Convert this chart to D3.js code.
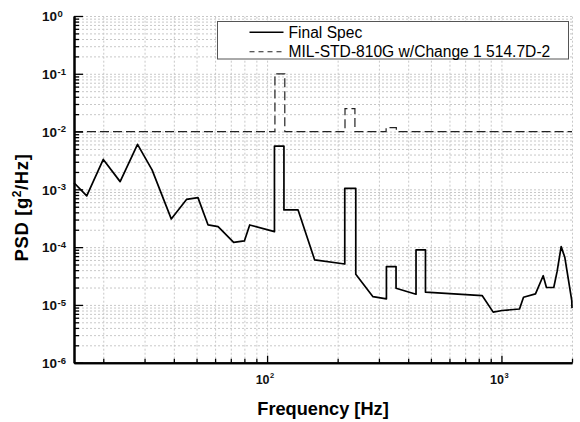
<!DOCTYPE html>
<html>
<head>
<meta charset="utf-8">
<title>PSD</title>
<script src="https://cdn.jsdelivr.net/npm/d3@7"></script>
<style>
  body { margin: 0; background: #fff; }
  svg { font-family: "Liberation Sans", Arial, sans-serif; }
  .grid line { stroke: #c8c8c8; stroke-width: 1; stroke-dasharray: 2,2; }
  .grid path { display: none; }
</style>
</head>
<body>
<svg id="chart" width="580" height="422"></svg>
<script>
// Final spec (solid)
var specFreq = [15, 17, 20, 23.6, 28, 32.3, 39, 45.3, 50.7, 56, 61.8, 72, 80, 84.3,
  107.5, 107.5, 118, 118, 135.6, 159.6, 214.5, 214.5, 239, 239, 283, 323, 323, 355, 355,
  432, 432, 474, 474, 827, 922, 1007, 1194, 1242, 1397, 1507, 1556, 1672, 1728, 1798, 1863, 1995, 2000];
var specPsd = [1.3e-3, 7.7e-4, 3.3e-3, 1.36e-3, 6.0e-3, 2.17e-3, 3.08e-4, 6.7e-4, 7.2e-4, 2.42e-4, 2.26e-4, 1.21e-4, 1.28e-4, 2.42e-4,
  1.85e-4, 5.6e-3, 5.6e-3, 4.4e-4, 4.4e-4, 6.0e-5, 5.1e-5, 1.04e-3, 1.04e-3, 3.4e-5, 1.39e-5, 1.27e-5, 4.6e-5, 4.6e-5, 1.94e-5,
  1.53e-5, 8.95e-5, 8.95e-5, 1.66e-5, 1.45e-5, 7.5e-6, 8.0e-6, 8.5e-6, 1.36e-5, 1.55e-5, 3.2e-5, 2.0e-5, 2.0e-5, 3.8e-5, 1.02e-4, 6.7e-5, 1.2e-5, 8.8e-6];

// MIL-STD-810G reference (dashed)
var refFreq = [15, 108, 108, 119, 119, 215, 215, 237, 237, 322, 322, 356, 356, 2000];
var refPsd = [0.01, 0.01, 0.1, 0.1, 0.01, 0.01, 0.025, 0.025, 0.01, 0.01, 0.0117, 0.0117, 0.01, 0.01];

var xMajor = [100, 1000];
var xMinor = [20, 30, 40, 50, 60, 70, 80, 90, 200, 300, 400, 500, 600, 700, 800, 900, 2000];
var yMajorExp = [0, -1, -2, -3, -4, -5, -6];
var legendNames = ["Final Spec", "MIL-STD-810G w/Change 1 514.7D-2"];

var pLeft = 74, pRight = 572, pTop = 16, pBottom = 362.7;

var svg = d3.select("#chart");

var x = d3.scaleLog().domain([15, 2000]).range([pLeft, pRight]);
var y = d3.scaleLog().domain([1e-6, 1]).range([pBottom, pTop]);

var yMajor = yMajorExp.map(function(e) { return Math.pow(10, e); });
var yMinor = [];
yMajorExp.slice(1).forEach(function(e) {
  for (var k = 2; k <= 9; k++) yMinor.push(k * Math.pow(10, e));
});

// grid
svg.append("g").attr("class", "grid")
  .attr("transform", "translate(0," + pBottom + ")")
  .call(d3.axisBottom(x).tickValues(xMinor.concat(xMajor)).tickSize(-(pBottom - pTop)).tickFormat(""));
svg.append("g").attr("class", "grid")
  .attr("transform", "translate(" + pLeft + ",0)")
  .call(d3.axisLeft(y).tickValues(yMinor.concat(yMajor)).tickSize(-(pRight - pLeft)).tickFormat(""));

// lines
var line = d3.line()
  .x(function(d) { return x(d[0]); })
  .y(function(d) { return y(d[1]); });

svg.append("path")
  .datum(refFreq.map(function(f, i) { return [f, refPsd[i]]; }))
  .attr("fill", "none")
  .attr("stroke", "#222")
  .attr("stroke-width", 1.2)
  .attr("stroke-dasharray", "9,4")
  .attr("d", line);

svg.append("path")
  .datum(specFreq.map(function(f, i) { return [f, specPsd[i]]; }))
  .attr("fill", "none")
  .attr("stroke", "#000")
  .attr("stroke-width", 1.7)
  .attr("stroke-linejoin", "round")
  .attr("d", line);

// axes
function styleAxis(g) {
  g.select(".domain").attr("stroke", "#000").attr("stroke-width", 2);
  g.selectAll(".tick line").attr("stroke", "#000").attr("stroke-width", 1.3);
}

svg.append("g")
  .attr("transform", "translate(0," + pBottom + ")")
  .call(d3.axisBottom(x).tickValues(xMinor).tickSizeInner(-4).tickSizeOuter(0).tickFormat(""))
  .call(styleAxis);
svg.append("g")
  .attr("transform", "translate(0," + pBottom + ")")
  .call(d3.axisBottom(x).tickValues(xMajor).tickSizeInner(-7).tickSizeOuter(0).tickFormat(""))
  .call(styleAxis);

svg.append("g")
  .attr("transform", "translate(" + pLeft + ",0)")
  .call(d3.axisLeft(y).tickValues(yMinor).tickSizeInner(-5).tickSizeOuter(0).tickFormat(""))
  .call(styleAxis);
svg.append("g")
  .attr("transform", "translate(" + pLeft + ",0)")
  .call(d3.axisLeft(y).tickValues(yMajor).tickSizeInner(-9).tickSizeOuter(0).tickFormat(""))
  .call(styleAxis);

// tick labels with superscripts
yMajorExp.forEach(function(e) {
  svg.append("text")
    .attr("x", 57).attr("y", y(Math.pow(10, e)) + 5.3)
    .attr("text-anchor", "end")
    .attr("font-weight", "bold").attr("font-size", 13.5).attr("fill", "#111")
    .text("10");
  svg.append("text")
    .attr("x", 57.5).attr("y", y(Math.pow(10, e)) + 0.8)
    .attr("font-weight", "bold").attr("font-size", 9.5).attr("fill", "#111")
    .text(e);
});

xMajor.forEach(function(v) {
  svg.append("text")
    .attr("x", x(v) + 2.5).attr("y", pBottom + 21.6)
    .attr("text-anchor", "end")
    .attr("font-weight", "bold").attr("font-size", 12.5).attr("fill", "#111")
    .text("10");
  svg.append("text")
    .attr("x", x(v) + 3).attr("y", pBottom + 15)
    .attr("font-weight", "bold").attr("font-size", 7.5).attr("fill", "#111")
    .text(Math.round(Math.log10(v)));
});

// axis titles
svg.append("text")
  .attr("x", (pLeft + pRight) / 2).attr("y", 415)
  .attr("text-anchor", "middle")
  .attr("font-weight", "bold").attr("font-size", 18.2)
  .text("Frequency [Hz]");

var yt = svg.append("text")
  .attr("transform", "translate(28,207.5) rotate(-90)")
  .attr("text-anchor", "middle")
  .attr("font-weight", "bold").attr("font-size", 18.5)
  .attr("letter-spacing", 0.6);
yt.append("tspan").text("PSD [g");
yt.append("tspan").attr("dy", -7.5).attr("font-size", 12).text("2");
yt.append("tspan").attr("dy", 7.5).text("/Hz]");

// legend
var lg = svg.append("g");
lg.append("rect")
  .attr("x", 217.5).attr("y", 21.5).attr("width", 351).attr("height", 37.5)
  .attr("fill", "#fff").attr("stroke", "#555").attr("stroke-width", 1);
legendNames.forEach(function(name, i) {
  var ly = 32.3 + i * 19.4;
  lg.append("line")
    .attr("x1", 249.5).attr("x2", 283.5).attr("y1", ly).attr("y2", ly)
    .attr("stroke", i == 0 ? "#000" : "#222")
    .attr("stroke-width", i == 0 ? 1.6 : 1.1)
    .attr("stroke-dasharray", i == 0 ? null : "5,4");
  lg.append("text")
    .attr("x", 288.5).attr("y", ly + 5.4)
    .attr("font-size", 15.6).attr("fill", "#000")
    .text(name);
});
</script>
</body>
</html>
